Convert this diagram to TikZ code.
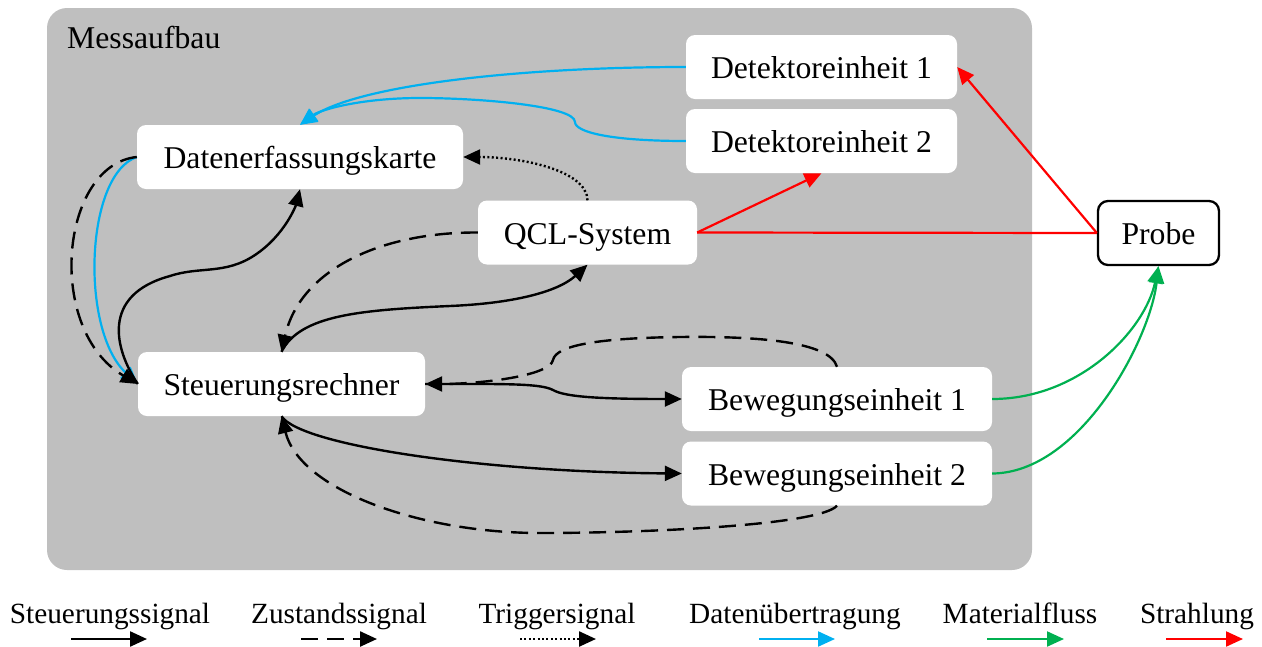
\documentclass[tikz,border=0pt]{standalone}
\usepackage{fontspec}
\setmainfont{Liberation Serif}
\usetikzlibrary{arrows.meta}
\definecolor{bgray}{HTML}{BFBFBF}
\definecolor{dblue}{HTML}{00B0F0}
\definecolor{mgreen}{HTML}{00B050}
\definecolor{rred}{HTML}{FF0000}
\begin{document}
\begin{tikzpicture}[x=1pt,y=-1pt,
  box/.style={fill=white, rounded corners=9pt, inner sep=0pt, minimum height=64pt,
    text height=27pt, text depth=4pt, font=\fontsize{31.7pt}{38pt}\selectfont},
  lbl/.style={anchor=base, inner sep=0pt, font=\fontsize{29.3pt}{35pt}\selectfont},
  tip/.style={-{Triangle[length=17pt,width=15pt]}},
  ctrl/.style={tip, line width=2.4pt, black},
  state/.style={ctrl, dash pattern=on 17pt off 9pt},
  trig/.style={ctrl, dash pattern=on 2pt off 2.4pt},
  data/.style={tip, line width=2.2pt, dblue},
  mat/.style={tip, line width=2.2pt, mgreen},
  rad/.style={tip, line width=2.2pt, rred},
  radline/.style={line width=2.2pt, rred}
]
\useasboundingbox (0,0) rectangle (1262,646);
\fill[bgray, rounded corners=20pt] (47,8) rectangle (1032,570);
\node[anchor=base west, inner sep=0pt, font=\fontsize{31.7pt}{38pt}\selectfont] (mess) at (67,48) {Messaufbau};

\node[box, minimum width=326pt] (dek) at (300,157) {Datenerfassungskarte};
\node[box, minimum width=271pt] (det1) at (821.5,67) {Detektoreinheit 1};
\node[box, minimum width=271pt] (det2) at (821.5,141) {Detektoreinheit 2};
\node[box, minimum width=219pt] (qcl) at (587.5,232.5) {QCL-System};
\node[box, minimum width=287pt] (sr) at (281.5,384) {Steuerungsrechner};
\node[box, minimum width=310pt] (bew1) at (837,399) {Bewegungseinheit 1};
\node[box, minimum width=310pt] (bew2) at (837,473.5) {Bewegungseinheit 2};
\node[box, draw=black, line width=2.3pt, rounded corners=10pt, minimum width=121pt, minimum height=64pt] (probe) at (1158.5,233) {Probe};

% data transfer (blue)
\draw[data] (det1.west) .. controls (520,67) and (360,85) .. (dek.north);
\draw[data] (det2.west) .. controls (610,141) and (575,132) .. (575,122)
   .. controls (575,106) and (480,98) .. (420,98)
   .. controls (360,98) and (320,110) .. (dek.north);
\draw[data] (dek.west) .. controls (85,175) and (80,330) .. (sr.west);

% state signals (dashed)
\draw[state] (dek.west) .. controls (60,165) and (45,330) .. (sr.west);
\draw[state] (qcl.west) .. controls (380,232) and (300,270) .. (sr.north);
\draw[state] (bew1.north) .. controls (830,342) and (760,336) .. (680,337)
   .. controls (600,338) and (556,345) .. (553,360)
   .. controls (550,376) and (480,384) .. (sr.east);
\draw[state] (bew2.south) .. controls (820,525) and (650,533) .. (540,533)
   .. controls (420,533) and (300,490) .. (sr.south);

% control signals (solid)
\draw[ctrl] (sr.west) .. controls (115,350) and (100,295) .. (170,276)
   .. controls (200,266) and (225,275) .. (255,255)
   .. controls (285,235) and (296,205) .. (dek.south);
\draw[ctrl] (sr.north) .. controls (300,315) and (360,310) .. (450,306)
   .. controls (520,303) and (560,290) .. (qcl.south);
\draw[ctrl] (sr.east) .. controls (500,384) and (540,383) .. (553,390)
   .. controls (565,397) and (600,399) .. (bew1.west);
\draw[ctrl] (sr.south) .. controls (300,445) and (480,472) .. (bew2.west);

% trigger
\draw[trig] (qcl.north) .. controls (587,170) and (520,157) .. (dek.east);

% radiation
\draw[rad] (qcl.east) -- (det2.south);
\draw[radline] (qcl.east) -- (probe.west);
\draw[rad] (probe.west) -- (det1.east);

% material flow
\draw[mat] (bew1.east) .. controls (1080,399) and (1145,330) .. (probe.south);
\draw[mat] (bew2.east) .. controls (1080,473) and (1150,340) .. (probe.south);

% legend
\node[lbl] (t1) at (110,623) {Steuerungssignal};
\node[lbl] (t2) at (339,623) {Zustandssignal};
\node[lbl] (t3) at (557,623) {Triggersignal};
\node[lbl] (t4) at (795,623) {Datenübertragung};
\node[lbl] (t5) at (1020,623) {Materialfluss};
\node[lbl] (t6) at (1197,623) {Strahlung};
\coordinate (a1) at (71,639);   \coordinate (b1) at (147,639);
\coordinate (a2) at (301,639);  \coordinate (b2) at (377,639);
\coordinate (a3) at (520,639);  \coordinate (b3) at (596,639);
\coordinate (a4) at (759,639);  \coordinate (b4) at (835,639);
\coordinate (a5) at (987,639);  \coordinate (b5) at (1064,639);
\coordinate (a6) at (1166,639); \coordinate (b6) at (1243,639);
\draw[ctrl] (a1) -- (b1);
\draw[state] (a2) -- (b2);
\draw[trig] (a3) -- (b3);
\draw[data] (a4) -- (b4);
\draw[mat] (a5) -- (b5);
\draw[rad] (a6) -- (b6);
\end{tikzpicture}
\end{document}
